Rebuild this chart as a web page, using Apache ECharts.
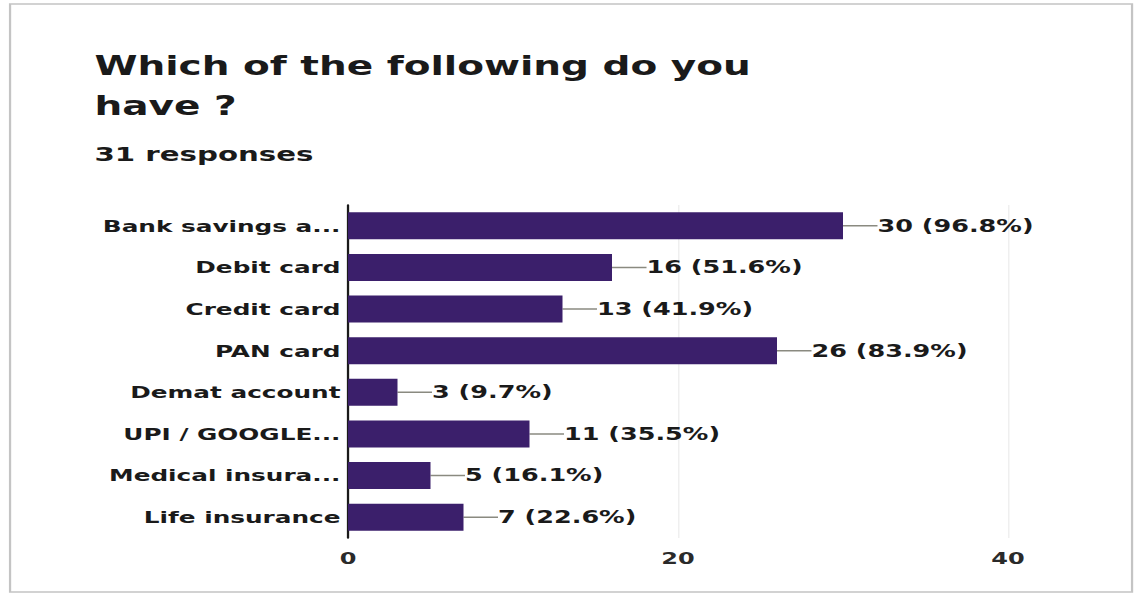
<!DOCTYPE html>
<html><head><meta charset="utf-8">
<script src="https://cdn.jsdelivr.net/npm/echarts@6/dist/echarts.min.js"></script>
<style>
html,body{margin:0;padding:0;background:#fff;overflow:hidden;width:1139px;height:594px}
/* the reference picture is stretched horizontally (~1.5x): reproduce by stretching the chart box */
#c{width:760px;height:594px;transform:scaleX(1.5);transform-origin:0 0}
</style>
</head><body><div id="c"></div>
<script>
const categories = ["Bank savings a...","Debit card","Credit card","PAN card","Demat account","UPI / GOOGLE...","Medical insura...","Life insurance"];
const counts = [30,16,13,26,3,11,5,7];
const percents = ["96.8%","51.6%","41.9%","83.9%","9.7%","35.5%","16.1%","22.6%"];
const xTicks = [0,20,40];

const chart = echarts.init(document.getElementById('c'), null, {renderer:'svg'});
const F = 'DejaVu Sans';
chart.setOption({
  animation:false,
  backgroundColor:'#fff',
  title:[
    {text:'Which of the following do you\nhave ?', left:58, top:41, textStyle:{fontFamily:F,fontSize:26,fontWeight:'bold',color:'#1a1a1a',lineHeight:40}},
    {text:'31 responses', left:58, top:139, textStyle:{fontFamily:F,fontSize:19.5,fontWeight:'bold',color:'#1a1a1a'}}
  ],
  graphic:[{type:'rect',shape:{x:6.7,y:4,width:748,height:588},style:{fill:'none',stroke:'#c4c4c4',lineWidth:1.5},z:-1}],
  grid:{left:232,right:88,top:205,bottom:56,containLabel:false},
  xAxis:{type:'value',min:xTicks[0],max:xTicks[xTicks.length-1],interval:xTicks[1]-xTicks[0],
    axisLine:{show:false},axisTick:{show:false},
    splitLine:{show:true,lineStyle:{color:'#efefef',width:1}},
    axisLabel:{fontFamily:F,fontSize:16,fontWeight:'bold',color:'#2a2a2a',margin:13}},
  yAxis:{type:'category',data:categories,inverse:true,
    axisLine:{show:true,lineStyle:{color:'#1a1a1a',width:1.5}},axisTick:{show:false},
    axisLabel:{fontFamily:F,fontSize:16.5,fontWeight:'bold',color:'#1a1a1a',margin:5}},
  series:[{type:'bar',data:counts,barWidth:27,
    itemStyle:{color:'#3b1f6b'},
    label:{show:true,position:'right',distance:0,fontFamily:F,fontSize:17,fontWeight:'bold',color:'#1a1a1a',
      formatter:p=>p.value+' ('+percents[p.dataIndex]+')'},
    labelLayout:{dx:23},
    labelLine:{show:true,lineStyle:{color:'#8a8a80',width:1.5}}
  }]
});
</script></body></html>
